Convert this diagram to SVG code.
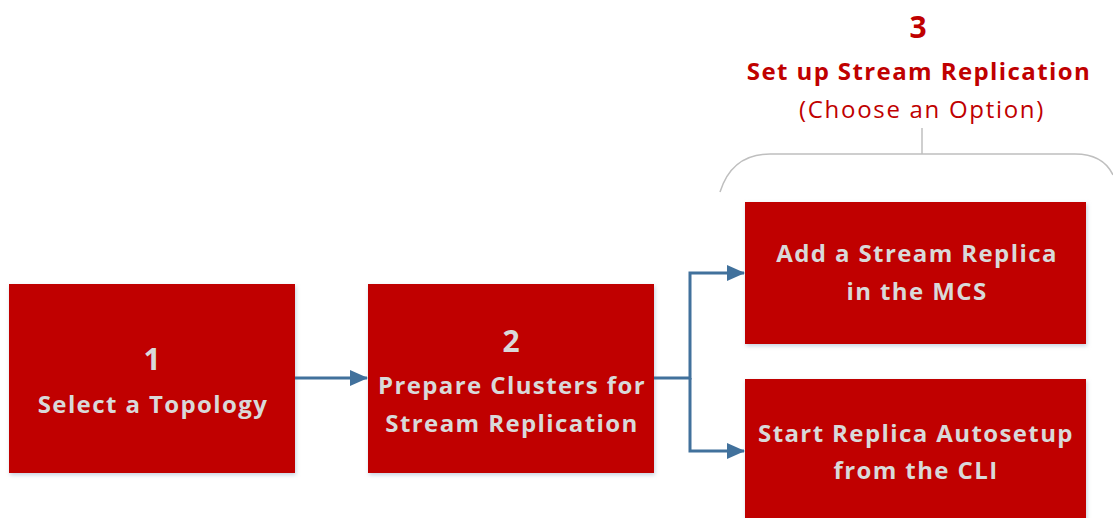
<svg xmlns="http://www.w3.org/2000/svg" width="1113" height="518" viewBox="0 0 1113 518">
<defs>
<marker id="ah" markerWidth="18" markerHeight="16" refX="17" refY="8" orient="auto" markerUnits="userSpaceOnUse" viewBox="0 0 18 16">
<path d="M0,0 L18,8 L0,16 z" fill="#41719C"/>
</marker>
<filter id="sh" x="-10%" y="-10%" width="120%" height="120%">
<feDropShadow dx="1" dy="2" stdDeviation="2" flood-color="#9DB3CC" flood-opacity="0.6"/>
</filter>
</defs>
<style>
.box{fill:#C00000;filter:url(#sh)}
.bt{font-family:"Open Sans","Noto Sans",sans-serif;font-weight:bold;fill:#D9D9D9;text-anchor:middle}
.num{font-size:30px}
.lbl{font-size:24px;letter-spacing:1.4px}
.hd{font-family:"Open Sans","Noto Sans",sans-serif;fill:#C00000;text-anchor:middle}
.conn{fill:none;stroke:#41719C;stroke-width:3}
.brk{fill:none;stroke:#BFBFBF;stroke-width:1.5}
</style>
<rect width="1113" height="518" fill="#FFFFFF"/>
<g id="header">
<text class="hd" x="918" y="38" font-size="30" font-weight="bold">3</text>
<text class="hd" x="919" y="80" font-size="24" font-weight="bold" letter-spacing="1.4">Set up Stream Replication</text>
<text class="hd" x="922" y="118" font-size="24" letter-spacing="1.7">(Choose an Option)</text>
<path class="brk" d="M922,128 V154"/>
<path class="brk" d="M720,192 Q732,154 770,154 H1075 Q1103,154 1113,175"/>
</g>
<g id="node1">
<rect class="box" x="9" y="284" width="286" height="189"/>
<text class="bt num" x="152" y="370">1</text>
<text class="bt lbl" x="153" y="413">Select a Topology</text>
</g>
<g id="node2">
<rect class="box" x="368" y="284" width="286" height="189"/>
<text class="bt num" x="511" y="352">2</text>
<text class="bt lbl" x="512" y="394">Prepare Clusters for</text>
<text class="bt lbl" x="512" y="432">Stream Replication</text>
</g>
<g id="node3a">
<rect class="box" x="745" y="202" width="341" height="142"/>
<text class="bt lbl" x="917" y="262">Add a Stream Replica</text>
<text class="bt lbl" x="917" y="300">in the MCS</text>
</g>
<g id="node3b">
<rect class="box" x="745" y="379" width="341" height="150"/>
<text class="bt lbl" x="916" y="442">Start Replica Autosetup</text>
<text class="bt lbl" x="916" y="479">from the CLI</text>
</g>
<g id="connectors">
<path class="conn" d="M295,378 H367" marker-end="url(#ah)"/>
<path class="conn" d="M654,378 H690 V273 H744" marker-end="url(#ah)"/>
<path class="conn" d="M690,378 V451 H744" marker-end="url(#ah)"/>
</g>
</svg>
